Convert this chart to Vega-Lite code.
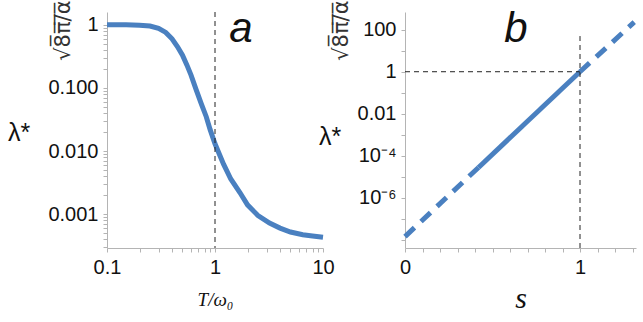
{
  "$schema": "https://vega.github.io/schema/vega-lite/v6.json",
  "background": "white",
  "padding": {"left": 7, "top": 0, "right": 0, "bottom": 8},
  "spacing": 82,
  "bounds": "flush",
  "config": {
    "view": {"stroke": null},
    "axis": {
      "grid": false,
      "domainColor": "#b4b4b4",
      "tickColor": "#b4b4b4",
      "tickSize": 4,
      "labelFont": "Liberation Sans, Arial, sans-serif",
      "labelFontSize": 20,
      "labelColor": "#111",
      "labelPadding": 5,
      "labelOverlap": false,
      "labelFlush": false,
      "titleColor": "#333"
    }
  },
  "datasets": {
    "one": [{"k": 1}],
    "curveA": [
      {"T": 0.1, "lam": 1.0}, {"T": 0.15, "lam": 1.0}, {"T": 0.2, "lam": 0.99},
      {"T": 0.25, "lam": 0.96}, {"T": 0.3, "lam": 0.88}, {"T": 0.35, "lam": 0.76},
      {"T": 0.4, "lam": 0.6}, {"T": 0.45, "lam": 0.45}, {"T": 0.5, "lam": 0.33},
      {"T": 0.55, "lam": 0.23}, {"T": 0.6, "lam": 0.16}, {"T": 0.67, "lam": 0.093},
      {"T": 0.75, "lam": 0.055}, {"T": 0.83, "lam": 0.035}, {"T": 0.9, "lam": 0.022},
      {"T": 1.0, "lam": 0.013}, {"T": 1.2, "lam": 0.0062}, {"T": 1.4, "lam": 0.0036},
      {"T": 1.7, "lam": 0.0022}, {"T": 2.0, "lam": 0.0014}, {"T": 2.5, "lam": 0.00095},
      {"T": 3.2, "lam": 0.00072}, {"T": 4.0, "lam": 0.0006}, {"T": 5.0, "lam": 0.00052},
      {"T": 6.5, "lam": 0.00047}, {"T": 8.0, "lam": 0.00045}, {"T": 10.0, "lam": 0.00043}
    ],
    "lineB": [
      {"s": 0.0, "lam": 1.4e-8, "seg": "low"},
      {"s": 0.42, "lam": 2.75e-5, "seg": "low"},
      {"s": 0.42, "lam": 2.75e-5, "seg": "mid"},
      {"s": 1.0, "lam": 1.0, "seg": "mid"},
      {"s": 1.0, "lam": 1.0, "seg": "high"},
      {"s": 1.31, "lam": 230, "seg": "high"}
    ]
  },
  "hconcat": [
    {
      "width": 216,
      "height": 236,
      "layer": [
        {
          "data": {"name": "curveA"},
          "mark": {"type": "line", "color": "#4a80c0", "strokeWidth": 5, "strokeCap": "butt"},
          "encoding": {
            "x": {
              "field": "T", "type": "quantitative",
              "scale": {"type": "log", "domain": [0.1, 10], "nice": false},
              "axis": {
                "values": [0.1,0.2,0.3,0.4,0.5,0.6,0.7,0.8,0.9,1,2,3,4,5,6,7,8,9,10],
                "tickCount": 100,
                "labelExpr": "abs(log(datum.value)/LN10 - round(log(datum.value)/LN10)) < 0.001 ? (datum.value < 0.5 ? '0.1' : datum.value < 5 ? '1' : '10') : ''",
                "title": "T/ω₀",
                "titleFont": "Liberation Serif",
                "titleFontStyle": "italic",
                "titleFontWeight": "normal",
                "titleFontSize": 19,
                "titleColor": "#111",
                "titleBaseline": "alphabetic",
                "titleY": 57
              }
            },
            "y": {
              "field": "lam", "type": "quantitative",
              "scale": {"type": "log", "domain": [0.00029, 1.6], "nice": false},
              "axis": {
                "values": [0.0003,0.0004,0.0005,0.0006,0.0007,0.0008,0.0009,0.001,0.002,0.003,0.004,0.005,0.006,0.007,0.008,0.009,0.01,0.02,0.03,0.04,0.05,0.06,0.07,0.08,0.09,0.1,0.2,0.3,0.4,0.5,0.6,0.7,0.8,0.9,1],
                "tickCount": 100,
                "labelExpr": "abs(log(datum.value)/LN10 - round(log(datum.value)/LN10)) < 0.001 ? (datum.value > 0.5 ? '1' : format(datum.value, '.3f')) : ''",
                "labelPadding": 5,
                "title": "√8̅π̅/̅α̅",
                "titleFont": "DejaVu Sans",
                "titleFontWeight": "normal",
                "titleFontSize": 21,
                "titleAngle": 270,
                "titleAlign": "right",
                "titleBaseline": "middle",
                "titleX": -44,
                "titleY": -12
              }
            }
          }
        },
        {
          "data": {"name": "one"},
          "mark": {"type": "rule", "color": "#222", "strokeWidth": 1, "strokeDash": [5, 4]},
          "encoding": {"x": {"datum": 1}}
        },
        {
          "data": {"name": "one"},
          "mark": {"type": "text", "text": "a", "font": "Liberation Sans, Arial, sans-serif", "fontStyle": "italic", "fontSize": 42, "align": "center", "baseline": "alphabetic", "color": "#111"},
          "encoding": {"x": {"datum": 1.74}, "y": {"datum": 0.54}}
        },
        {
          "data": {"name": "one"},
          "mark": {"type": "text", "text": "λ*", "font": "Liberation Sans, Arial, sans-serif", "fontSize": 25, "align": "center", "baseline": "middle", "dx": -88, "color": "#111"},
          "encoding": {"x": {"datum": 0.1}, "y": {"datum": 0.019}}
        }
      ]
    },
    {
      "width": 231,
      "height": 236,
      "layer": [
        {
          "data": {"name": "lineB"},
          "transform": [{"filter": "datum.seg == 'mid'"}],
          "mark": {"type": "line", "color": "#4a80c0", "strokeWidth": 5, "strokeCap": "butt"},
          "encoding": {
            "x": {
              "field": "s", "type": "quantitative",
              "scale": {"domain": [0, 1.32], "nice": false, "zero": false},
              "axis": {
                "values": [0,0.1,0.2,0.3,0.4,0.5,0.6,0.7,0.8,0.9,1,1.1,1.2,1.3],
                "tickCount": 100,
                "labelExpr": "abs(datum.value) < 0.001 ? '0' : abs(datum.value - 1) < 0.001 ? '1' : ''",
                "title": "s",
                "titleFont": "Liberation Serif",
                "titleFontStyle": "italic",
                "titleFontWeight": "normal",
                "titleFontSize": 30,
                "titleColor": "#111",
                "titleBaseline": "alphabetic",
                "titleY": 59
              }
            },
            "y": {
              "field": "lam", "type": "quantitative",
              "scale": {"type": "log", "domain": [4e-9, 700], "nice": false},
              "axis": {
                "values": [1e-8,1e-7,1e-6,1e-5,1e-4,1e-3,1e-2,1e-1,1,10,100],
                "tickCount": 100,
                "labelExpr": "round(log(datum.value)/LN10) == 2 ? '100' : round(log(datum.value)/LN10) == 0 ? '1' : round(log(datum.value)/LN10) == -2 ? '0.01' : round(log(datum.value)/LN10) == -4 ? '10⁻⁴' : round(log(datum.value)/LN10) == -6 ? '10⁻⁶' : ''",
                "labelPadding": 5,
                "title": "√8̅π̅/̅α̅",
                "titleFont": "DejaVu Sans",
                "titleFontWeight": "normal",
                "titleFontSize": 21,
                "titleAngle": 270,
                "titleAlign": "right",
                "titleBaseline": "middle",
                "titleX": -64,
                "titleY": -12
              }
            }
          }
        },
        {
          "data": {"name": "one"},
          "mark": {"type": "rule", "color": "#222", "strokeWidth": 1, "strokeDash": [5, 4]},
          "encoding": {"x": {"datum": 1}, "y": {"datum": 4e-9}, "y2": {"datum": 50}}
        },
        {
          "data": {"name": "one"},
          "mark": {"type": "rule", "color": "#222", "strokeWidth": 1, "strokeDash": [5, 4]},
          "encoding": {"x": {"datum": 0}, "x2": {"datum": 1}, "y": {"datum": 1}}
        },
        {
          "data": {"name": "lineB"},
          "transform": [{"filter": "datum.seg != 'mid'"}],
          "mark": {"type": "line", "color": "#4a80c0", "strokeWidth": 5, "strokeCap": "butt", "strokeDash": [13, 9]},
          "encoding": {
            "x": {"field": "s", "type": "quantitative"},
            "y": {"field": "lam", "type": "quantitative"},
            "detail": {"field": "seg"}
          }
        },
        {
          "data": {"name": "one"},
          "mark": {"type": "text", "text": "b", "font": "Liberation Sans, Arial, sans-serif", "fontStyle": "italic", "fontSize": 42, "align": "center", "baseline": "alphabetic", "color": "#111"},
          "encoding": {"x": {"datum": 0.634}, "y": {"datum": 27}}
        },
        {
          "data": {"name": "one"},
          "mark": {"type": "text", "text": "λ*", "font": "Liberation Sans, Arial, sans-serif", "fontSize": 25, "align": "center", "baseline": "middle", "dx": -75, "color": "#111"},
          "encoding": {"x": {"datum": 0}, "y": {"datum": 0.0008}}
        }
      ]
    }
  ]
}
